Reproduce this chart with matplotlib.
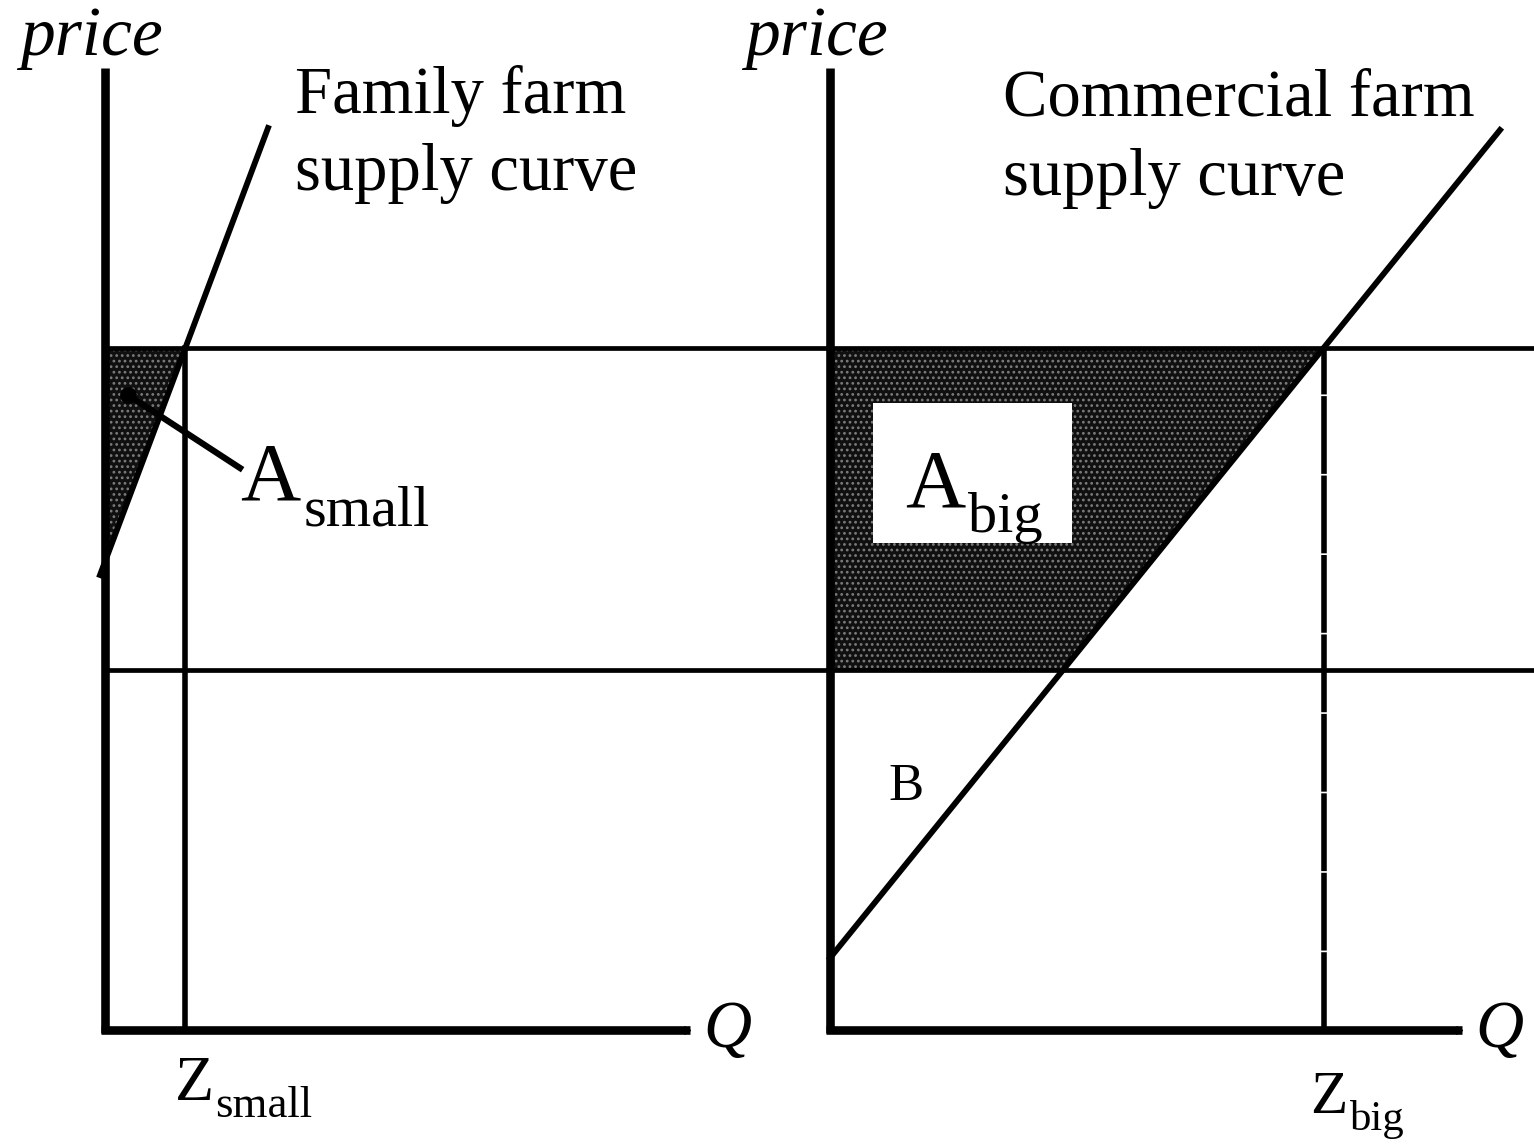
import matplotlib.pyplot as plt
import numpy as np
from matplotlib.patches import Polygon, Rectangle

plt.rcParams['font.family'] = ['Liberation Serif', 'DejaVu Serif']
plt.rcParams['hatch.linewidth'] = 1.2

# units: 1 = 100 px, panel-relative (q right, price up from the Q axis)
panel_origin_x = [1.05, 8.30]
panel_origin_y = 1.14
price_axis_top = 9.62
q_axis_len = [5.85, 6.32]

p_high = 6.82
p_low = 3.60

# supply curves (q, price) endpoints
family_q = [-0.05, 1.63]
family_p = [4.55, 9.02]
comm_q = [0.0, 6.70]
comm_p = [0.72, 9.00]

# right edges of the horizontal price lines, per panel
price_line_end = [7.25, 7.04]

# white box behind A_big label
abig_box_q = [0.43, 2.42]
abig_box_p = [4.87, 6.27]


def q_at(qs, ps, p):
    return qs[0] + (p - ps[0]) * (qs[1] - qs[0]) / (ps[1] - ps[0])


def p_at(qs, ps, q):
    return ps[0] + (q - qs[0]) * (ps[1] - ps[0]) / (qs[1] - qs[0])


def sub_label(x, y, main, sub, size, sub_dx, sub_dy):
    ax.text(x, y, main, fontsize=size, ha='left', va='baseline', zorder=6)
    ax.text(x + sub_dx, y - sub_dy, sub, fontsize=size * 0.7, ha='left', va='baseline', zorder=6)


fig = plt.figure(figsize=(15.34, 11.44), dpi=100)
ax = fig.add_axes([0, 0, 1, 1])
ax.set_xlim(0, 15.34)
ax.set_ylim(0, 11.44)
ax.axis('off')

y0 = panel_origin_y
shade = dict(facecolor='#101010', edgecolor='#7c7c7c', hatch='...', linewidth=0, zorder=1)

# ---- left panel: family farm
x0 = panel_origin_x[0]
z_small = q_at(family_q, family_p, p_high)
p_cut = p_at(family_q, family_p, 0)
ax.add_patch(Polygon([(x0, y0 + p_high), (x0 + z_small, y0 + p_high), (x0, y0 + p_cut)], closed=True, **shade))
ax.plot([x0 + q for q in family_q], [y0 + p for p in family_p], color='black', lw=4.2, zorder=3)
ax.plot([x0 + z_small] * 2, [y0, y0 + p_high], color='black', lw=4.0, zorder=3)

# pointer for A_small
ax.plot([x0 + 0.23, x0 + 1.35], [y0 + 6.35, y0 + 5.62], color='black', lw=4.5, zorder=4)
ax.plot(x0 + 0.23, y0 + 6.35, 'o', color='black', ms=11, zorder=4)

# ---- right panel: commercial farm
x1 = panel_origin_x[1]
z_big = q_at(comm_q, comm_p, p_high)
q_low = q_at(comm_q, comm_p, p_low)
ax.add_patch(Polygon([(x1, y0 + p_high), (x1 + z_big, y0 + p_high), (x1 + q_low, y0 + p_low), (x1, y0 + p_low)],
                     closed=True, **shade))
ax.add_patch(Rectangle((x1 + abig_box_q[0], y0 + abig_box_p[0]), abig_box_q[1] - abig_box_q[0],
                       abig_box_p[1] - abig_box_p[0], facecolor='white', edgecolor='none', zorder=2))
ax.plot([x1 + q for q in comm_q], [y0 + p for p in comm_p], color='black', lw=4.2, zorder=3)
ax.plot([x1 + z_big] * 2, [y0, y0 + p_high], color='black', lw=4.0, ls=(0, (14, 0.3)), zorder=3)

# horizontal price lines (run across both panels)
for i, xo in enumerate(panel_origin_x):
    for p in (p_high, p_low):
        ax.plot([xo, xo + price_line_end[i]], [y0 + p, y0 + p], color='black', lw=3.4, zorder=3)

# axes of both panels
for i, xo in enumerate(panel_origin_x):
    ax.plot([xo, xo], [y0 - 0.03, y0 + price_axis_top], color='black', lw=6.2, zorder=5,
            solid_capstyle='butt')
    ax.plot([xo - 0.04, xo + q_axis_len[i]], [y0, y0], color='black', lw=6.2, zorder=5,
            solid_capstyle='butt')
    ax.plot(xo + q_axis_len[i], y0, marker=5, color='black', ms=6, zorder=5)
    ax.text(xo - 0.85, y0 + 9.75, 'price', fontsize=50, style='italic', ha='left', va='baseline')
    ax.text(xo + q_axis_len[i] + 0.13, y0 - 0.17, 'Q', fontsize=48, style='italic', ha='left',
            va='baseline')

# labels
ax.text(x0 + 1.90, y0 + 9.17, 'Family farm', fontsize=48, ha='left', va='baseline')
ax.text(x0 + 1.90, y0 + 8.40, 'supply curve', fontsize=48, ha='left', va='baseline')
ax.text(x1 + 1.73, y0 + 9.14, 'Commercial farm', fontsize=48, ha='left', va='baseline')
ax.text(x1 + 1.73, y0 + 8.35, 'supply curve', fontsize=48, ha='left', va='baseline')

sub_label(x0 + 1.35, y0 + 5.30, 'A', 'small', 60, 0.64, 0.25)
sub_label(x1 + 0.75, y0 + 5.23, 'A', 'big', 60, 0.63, 0.25)
sub_label(x0 + 0.70, y0 - 0.70, 'Z', 'small', 46, 0.40, 0.17)
sub_label(x1 + 4.80, y0 - 0.83, 'Z', 'big', 44, 0.40, 0.17)
ax.text(x1 + 0.58, y0 + 2.30, 'B', fontsize=38, ha='left', va='baseline')

fig.savefig('out.png', dpi=100, facecolor='white')
